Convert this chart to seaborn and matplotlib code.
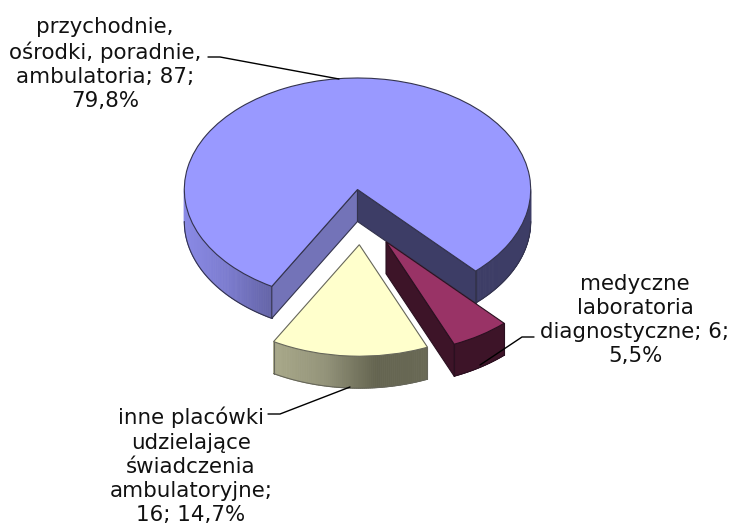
import numpy as np
import matplotlib
matplotlib.use("Agg")
import matplotlib.pyplot as plt
from matplotlib.collections import PolyCollection
from matplotlib.colors import LinearSegmentedColormap
import seaborn as sns

# --- data ---
categories = ["przychodnie, ośrodki, poradnie, ambulatoria",
              "inne placówki udzielające świadczenia ambulatoryjne",
              "medyczne laboratoria diagnostyczne"]
values = [87, 16, 6]
percent_labels = ["79,8%", "14,7%", "5,5%"]
label_texts = ["przychodnie,\nośrodki, poradnie,\nambulatoria; 87;\n79,8%",
               "inne placówki\nudzielające\nświadczenia\nambulatoryjne;\n16; 14,7%",
               "medyczne\nlaboratoria\ndiagnostyczne; 6;\n5,5%"]

# --- style / layout ---
W, H = 731, 527
CX, CY, RX, RY = 357.5, 189.5, 173.2, 111.5
DEPTH = 32 / RY
START_ANGLE = -47
centers_px = [(357.5, 189.5), (359.3, 244.7), (386.0, 241.7)]
top_colors = ["#9999FF", "#FFFFCC", "#993366"]
edge_colors = ["#33334d", "#66665a", "#2a1020"]
label_pos = [(105, 64), (191, 466), (635, 320)]
leaders = [[(208, 57), (220, 57), (339, 79)],
           [(268, 414), (280, 414), (350, 387)],
           [(534, 337), (522, 337), (480, 365)]]

sns.set_theme(style="white")
plt.rcParams["font.family"] = ["DejaVu Sans"]
fig, ax = plt.subplots(figsize=(W / 100, H / 100), dpi=100)
fig.subplots_adjust(0, 0, 1, 1)


def to_data(px, py):
    return (px - CX) / RX, -(py - CY) / RY


centers = [to_data(*c) for c in centers_px]
wedges, _ = ax.pie(values, startangle=START_ANGLE, colors=top_colors, radius=1,
                   wedgeprops=dict(linewidth=1.0))
ax.set_aspect("auto")
ax.set_xlim(to_data(0, 0)[0], to_data(W, 0)[0])
ax.set_ylim(to_data(0, H)[1], to_data(0, 0)[1])
ax.axis("off")


def side_strip(center, a0, a1, cmap, vmin, vmax, z, edge, ends=(True, True)):
    """Curved outer wall between two angles, shaded along the horizontal."""
    cx, cy = center
    t = np.radians(np.linspace(a0, a1, 80))
    x, y = cx + np.cos(t), cy + np.sin(t)
    polys = [[(x[i], y[i]), (x[i + 1], y[i + 1]),
              (x[i + 1], y[i + 1] - DEPTH), (x[i], y[i] - DEPTH)] for i in range(len(t) - 1)]
    cols = cmap((0.5 * (x[:-1] + x[1:]) - vmin) / (vmax - vmin))
    ax.add_collection(PolyCollection(polys, facecolors=cols, edgecolors=cols, linewidths=0.6, zorder=z))
    ax.plot(x, y - DEPTH, color=edge, lw=0.8, zorder=z + 0.1)
    for show, xe, ye in [(ends[0], x[0], y[0]), (ends[1], x[-1], y[-1])]:
        if show:
            ax.plot([xe, xe], [ye, ye - DEPTH], color=edge, lw=0.8, zorder=z + 0.1)


def inner_wall(center, angle, color, z, edge):
    cx, cy = center
    t = np.radians(angle)
    x, y = cx + np.cos(t), cy + np.sin(t)
    ax.fill([cx, x, x, cx], [cy, y, y - DEPTH, cy - DEPTH], facecolor=color, edgecolor=edge, lw=0.8, zorder=z)


angles = np.cumsum([0] + [v / sum(values) * 360 for v in values]) + START_ANGLE

main_left = LinearSegmentedColormap.from_list("a", ["#8a8ae6", "#7c7ccf", "#6565a8"])
main_right = LinearSegmentedColormap.from_list("b", ["#3d3d66", "#3d3d66"])
yellow = LinearSegmentedColormap.from_list("c", ["#a9a98a", "#94947a", "#646450", "#696955"])
rose = LinearSegmentedColormap.from_list("d", ["#3d1428", "#3d1428"])

# main slice
c0, c1, c2 = centers
side_strip(c0, 180, angles[1], main_left, -1, -0.5, 1, edge_colors[0], ends=(False, True))
side_strip(c0, angles[0], 0, main_right, 0, 1, 1, edge_colors[0], ends=(True, False))
inner_wall(c0, angles[1], "#7373b8", 1.5, edge_colors[0])
inner_wall(c0, angles[0], "#3d3d66", 1.6, edge_colors[0])
# yellow slice
side_strip(c1, angles[1], angles[2], yellow, c1[0] + np.cos(np.radians(angles[1])),
           c1[0] + np.cos(np.radians(angles[2])), 1, edge_colors[1])
# rose slice
inner_wall(c2, angles[2], "#3d1428", 1.5, edge_colors[2])
side_strip(c2, angles[2], angles[3], rose, 0, 1, 1.6, edge_colors[2])

for w, c, e in zip(wedges, centers, edge_colors):
    w.set_center(c)
    w.set_edgecolor(e)
    w.set_linewidth(0.8)
    w.set_zorder(3)

for pts in leaders:
    xs, ys = zip(*pts)
    ax.plot(np.array(xs) / W, 1 - np.array(ys) / H, transform=ax.transAxes,
            color="black", lw=1.0, zorder=5, solid_joinstyle="miter")

for txt, (x, y) in zip(label_texts, label_pos):
    ax.text(x / W, 1 - y / H, txt, transform=ax.transAxes, ha="center", va="center",
            fontsize=15.4, color="#111111", linespacing=1.26, zorder=6)

fig.savefig("out.png", dpi=100, facecolor="white")
